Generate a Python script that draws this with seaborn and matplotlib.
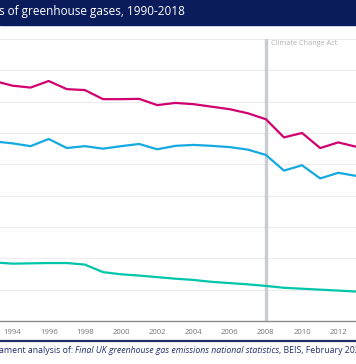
import matplotlib
matplotlib.use("Agg")
import matplotlib.pyplot as plt
import matplotlib.lines as mlines
import matplotlib.patches as mpatches
import numpy as np
import pandas as pd
import seaborn as sns

# ---- data ----
years = list(range(1993, 2014))
total_ghg = [766, 751, 745, 766, 740, 737, 708, 708, 709, 689, 696,
             692, 684, 676, 663, 644, 586, 600, 552, 570, 556]
carbon_dioxide = [573, 567, 558, 581, 552, 558, 550, 558, 565, 548, 559,
                  562, 559, 555, 547, 530, 480, 497, 455, 473, 463]
other_gases = [187, 183, 184, 185, 185, 180, 156, 149, 145, 140, 135,
               131, 125, 121, 117, 112, 106, 103, 100, 97, 94]
series_names = ["Total greenhouse gases", "Carbon dioxide", "Other greenhouse gases"]
x_ticks = list(range(1994, 2013, 2))
y_ticks = list(range(0, 1000, 100))
event_year = 2008
event_label = "Climate Change Act"
title_text = "s of greenhouse gases, 1990-2018"
source_plain = "ament analysis of: "
source_italic = "Final UK greenhouse gas emissions national statistics"
source_tail = ", BEIS, February 202"

df = pd.DataFrame({
    "year": years * 3,
    "value": total_ghg + carbon_dioxide + other_gases,
    "series": [series_names[0]] * len(years) + [series_names[1]] * len(years)
              + [series_names[2]] * len(years),
})

sns.set_theme(style="white")
plt.rcParams["font.family"] = ["Open Sans", "DejaVu Sans"]

W, H = 356, 364
fig = plt.figure(figsize=(W / 100, H / 100), dpi=100)
ax = fig.add_axes([0, (H - 321) / H, 1, 282 / H])

palette = {series_names[0]: "#d1006f", series_names[1]: "#14a9e1",
           series_names[2]: "#00c6a9"}
sns.lineplot(data=df, x="year", y="value", hue="series", palette=palette,
             linewidth=1.6, ax=ax, legend=False, zorder=3)

ax.set_xlim(1993.31, 2012.98)
ax.set_ylim(0, 900)
ax.set_xticks(x_ticks)
ax.set_xticklabels([str(t) for t in x_ticks])
ax.set_yticks(y_ticks)
ax.set_yticklabels([])
ax.set_xlabel("")
ax.set_ylabel("")
ax.grid(axis="y", color="#ededed", linewidth=0.8)
ax.grid(axis="x", visible=False)
ax.tick_params(axis="x", length=0, pad=6, labelsize=5.6, labelcolor="#777777")
ax.tick_params(axis="y", length=0)
for s in ["left", "right", "top"]:
    ax.spines[s].set_visible(False)
ax.spines["bottom"].set_color("#8c8c8c")
ax.spines["bottom"].set_linewidth(1.0)

ax.axvline(event_year, color="#c9ccd1", linewidth=2.4, zorder=2)
ax.text(event_year + 0.27, 885, event_label, fontsize=5.2, color="#b0b0b0",
        va="center", ha="left")

# header bar
fig.patches.append(mpatches.Rectangle((0, (H - 25) / H), 1, 25 / H,
                                      transform=fig.transFigure,
                                      color="#0b1c5c", zorder=0))
fig.text(-0.003, (H - 11.5) / H, title_text, color="white", fontsize=8.5,
         va="center", ha="left")

# footer line
fig.add_artist(mlines.Line2D([0, 1], [(H - 340.5) / H] * 2, transform=fig.transFigure,
                             color="#1f2e6b", linewidth=1.6))

# source text built from pieces
fig.canvas.draw()
renderer = fig.canvas.get_renderer()
ypos = (H - 350.5) / H
xpos = -0.003
for txt, style in [(source_plain, "normal"), (source_italic, "italic"),
                   (source_tail, "normal")]:
    t = fig.text(xpos, ypos, txt, color="#1f2e6b", fontsize=6.3, style=style,
                 va="center", ha="left")
    bb = t.get_window_extent(renderer=renderer)
    xpos = bb.x1 / (W)

fig.savefig("out.png", dpi=100)
